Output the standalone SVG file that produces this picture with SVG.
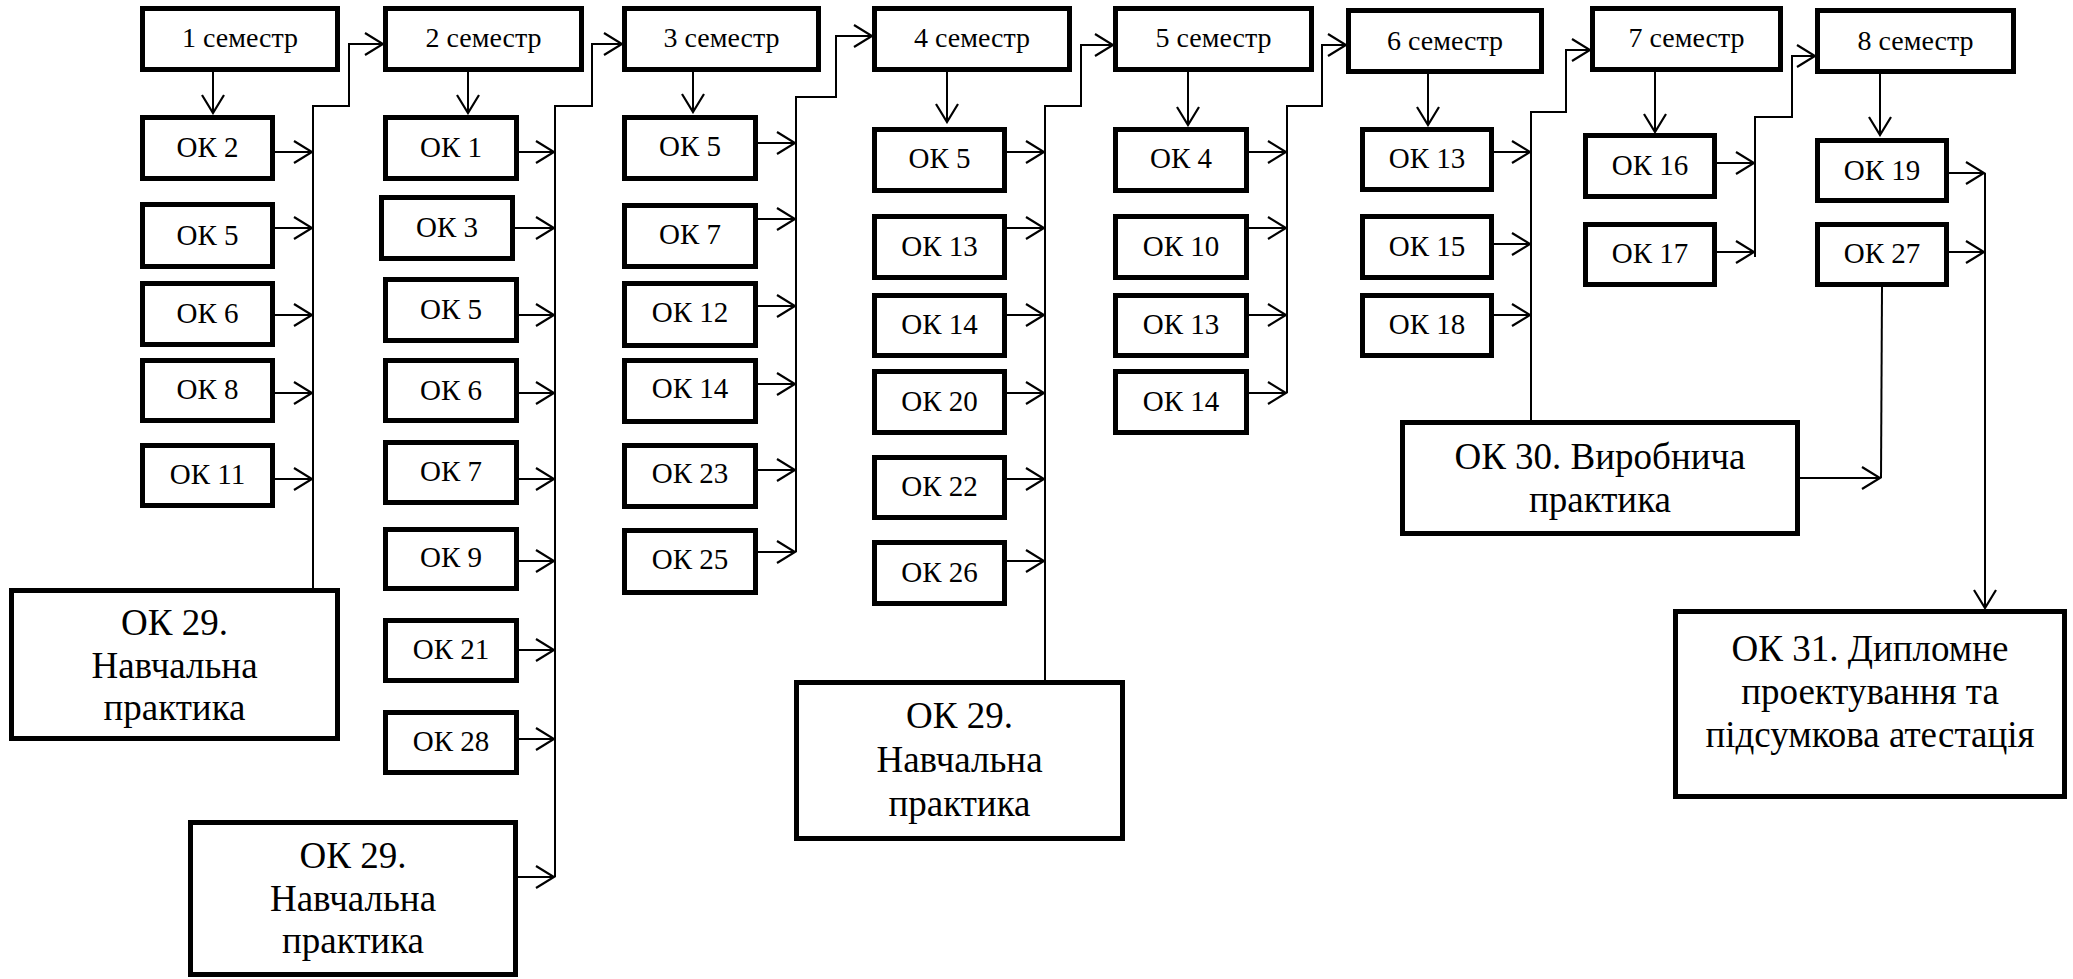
<svg xmlns="http://www.w3.org/2000/svg" width="2073" height="979" viewBox="0 0 2073 979">
<style>
.box{fill:#fff;stroke:#000;stroke-width:5}
.t{text-anchor:middle;fill:#000;font-family:'Liberation Serif','Times New Roman',serif}
.s{font-size:29px}
.m{font-size:28px}
.b{font-size:37px}
.c{fill:none;stroke:#000;stroke-width:2}
.a{fill:none;stroke:#000;stroke-width:2;marker-end:url(#ah)}
</style>
<defs>
<marker id="ah" markerUnits="userSpaceOnUse" viewBox="0 0 22 26" markerWidth="22" markerHeight="26" refX="20" refY="13" orient="auto">
<path d="M2,2 L20,13 L2,24" fill="none" stroke="#000" stroke-width="2.2"/>
</marker>
</defs>
<rect width="2073" height="979" fill="#fff"/>

<g id="connectors">
<line class="a" x1="213" y1="72" x2="213" y2="113"/>
<line class="a" x1="275" y1="152" x2="312" y2="152"/>
<line class="a" x1="275" y1="228" x2="312" y2="228"/>
<line class="a" x1="275" y1="315" x2="312" y2="315"/>
<line class="a" x1="275" y1="393" x2="312" y2="393"/>
<line class="a" x1="275" y1="479" x2="312" y2="479"/>
<polyline class="a" points="313,588 313,106 349,106 349,44 383,44"/>
<line class="a" x1="468" y1="72" x2="468" y2="113"/>
<line class="a" x1="519" y1="152" x2="554" y2="152"/>
<line class="a" x1="515" y1="228" x2="554" y2="228"/>
<line class="a" x1="519" y1="315" x2="554" y2="315"/>
<line class="a" x1="519" y1="393" x2="554" y2="393"/>
<line class="a" x1="519" y1="479" x2="554" y2="479"/>
<line class="a" x1="519" y1="561" x2="554" y2="561"/>
<line class="a" x1="519" y1="650" x2="554" y2="650"/>
<line class="a" x1="519" y1="739" x2="554" y2="739"/>
<line class="a" x1="518" y1="877" x2="554" y2="877"/>
<polyline class="a" points="555,877 555,106 592,106 592,44 622,44"/>
<line class="a" x1="693" y1="72" x2="693" y2="112"/>
<line class="a" x1="758" y1="143" x2="795" y2="143"/>
<line class="a" x1="758" y1="219" x2="795" y2="219"/>
<line class="a" x1="758" y1="306" x2="795" y2="306"/>
<line class="a" x1="758" y1="384" x2="795" y2="384"/>
<line class="a" x1="758" y1="470" x2="795" y2="470"/>
<line class="a" x1="758" y1="552" x2="795" y2="552"/>
<polyline class="a" points="796,552 796,97 836,97 836,36 872,36"/>
<line class="a" x1="947" y1="72" x2="947" y2="122"/>
<line class="a" x1="1007" y1="152" x2="1044" y2="152"/>
<line class="a" x1="1007" y1="228" x2="1044" y2="228"/>
<line class="a" x1="1007" y1="315" x2="1044" y2="315"/>
<line class="a" x1="1007" y1="393" x2="1044" y2="393"/>
<line class="a" x1="1007" y1="479" x2="1044" y2="479"/>
<line class="a" x1="1007" y1="561" x2="1044" y2="561"/>
<polyline class="a" points="1045,680 1045,106 1081,106 1081,45 1113,45"/>
<line class="a" x1="1188" y1="72" x2="1188" y2="125"/>
<line class="a" x1="1249" y1="152" x2="1286" y2="152"/>
<line class="a" x1="1249" y1="228" x2="1286" y2="228"/>
<line class="a" x1="1249" y1="315" x2="1286" y2="315"/>
<line class="a" x1="1249" y1="393" x2="1286" y2="393"/>
<polyline class="a" points="1287,393 1287,106 1322,106 1322,45 1346,45"/>
<line class="a" x1="1428" y1="74" x2="1428" y2="125"/>
<line class="a" x1="1494" y1="152" x2="1530" y2="152"/>
<line class="a" x1="1494" y1="244" x2="1530" y2="244"/>
<line class="a" x1="1494" y1="315" x2="1530" y2="315"/>
<polyline class="a" points="1531,420 1531,112 1566,112 1566,50 1590,50"/>
<line class="a" x1="1655" y1="72" x2="1655" y2="132"/>
<line class="a" x1="1717" y1="163" x2="1754" y2="163"/>
<line class="a" x1="1717" y1="252" x2="1754" y2="252"/>
<polyline class="a" points="1755,257 1755,117 1792,117 1792,56 1815,56"/>
<line class="a" x1="1880" y1="74" x2="1880" y2="135"/>
<line class="a" x1="1949" y1="173" x2="1984" y2="173"/>
<line class="a" x1="1949" y1="252" x2="1984" y2="252"/>
<line class="a" x1="1985" y1="173" x2="1985" y2="608"/>
<line class="c" x1="1882" y1="287" x2="1881" y2="478"/>
<line class="a" x1="1800" y1="478" x2="1880" y2="478"/>
</g>

<g id="sem1"><rect class="box" x="142.5" y="8.5" width="195" height="61"/><text class="t m" x="240" y="47">1 семестр</text></g>
<g id="sem2"><rect class="box" x="385.5" y="8.5" width="196" height="61"/><text class="t m" x="483.5" y="47">2 семестр</text></g>
<g id="sem3"><rect class="box" x="624.5" y="8.5" width="194" height="61"/><text class="t m" x="721.5" y="47">3 семестр</text></g>
<g id="sem4"><rect class="box" x="874.5" y="8.5" width="195" height="61"/><text class="t m" x="972" y="47">4 семестр</text></g>
<g id="sem5"><rect class="box" x="1115.5" y="8.5" width="196" height="61"/><text class="t m" x="1213.5" y="47">5 семестр</text></g>
<g id="sem6"><rect class="box" x="1348.5" y="10.5" width="193" height="61"/><text class="t m" x="1445" y="50">6 семестр</text></g>
<g id="sem7"><rect class="box" x="1592.5" y="8.5" width="188" height="61"/><text class="t m" x="1686.5" y="47">7 семестр</text></g>
<g id="sem8"><rect class="box" x="1817.5" y="10.5" width="196" height="61"/><text class="t m" x="1915.5" y="50">8 семестр</text></g>

<g id="c1-ok2"><rect class="box" x="142.5" y="117.5" width="130" height="61"/><text class="t s" x="207.5" y="157">ОК 2</text></g>
<g id="c1-ok5"><rect class="box" x="142.5" y="204.5" width="130" height="62"/><text class="t s" x="207.5" y="245">ОК 5</text></g>
<g id="c1-ok6"><rect class="box" x="142.5" y="283.5" width="130" height="61"/><text class="t s" x="207.5" y="323">ОК 6</text></g>
<g id="c1-ok8"><rect class="box" x="142.5" y="360.5" width="130" height="60"/><text class="t s" x="207.5" y="399">ОК 8</text></g>
<g id="c1-ok11"><rect class="box" x="142.5" y="445.5" width="130" height="60"/><text class="t s" x="207.5" y="484">ОК 11</text></g>

<g id="c2-ok1"><rect class="box" x="385.5" y="117.5" width="131" height="61"/><text class="t s" x="451" y="157">ОК 1</text></g>
<g id="c2-ok3"><rect class="box" x="381.5" y="197.5" width="131" height="61"/><text class="t s" x="447" y="237">ОК 3</text></g>
<g id="c2-ok5"><rect class="box" x="385.5" y="279.5" width="131" height="61"/><text class="t s" x="451" y="319">ОК 5</text></g>
<g id="c2-ok6"><rect class="box" x="385.5" y="360.5" width="131" height="60"/><text class="t s" x="451" y="400">ОК 6</text></g>
<g id="c2-ok7"><rect class="box" x="385.5" y="442.5" width="131" height="60"/><text class="t s" x="451" y="481">ОК 7</text></g>
<g id="c2-ok9"><rect class="box" x="385.5" y="529.5" width="131" height="59"/><text class="t s" x="451" y="567">ОК 9</text></g>
<g id="c2-ok21"><rect class="box" x="385.5" y="620.5" width="131" height="60"/><text class="t s" x="451" y="659">ОК 21</text></g>
<g id="c2-ok28"><rect class="box" x="385.5" y="712.5" width="131" height="60"/><text class="t s" x="451" y="751">ОК 28</text></g>

<g id="c3-ok5"><rect class="box" x="624.5" y="117.5" width="131" height="61"/><text class="t s" x="690" y="156">ОК 5</text></g>
<g id="c3-ok7"><rect class="box" x="624.5" y="205.5" width="131" height="61"/><text class="t s" x="690" y="244">ОК 7</text></g>
<g id="c3-ok12"><rect class="box" x="624.5" y="283.5" width="131" height="62"/><text class="t s" x="690" y="322">ОК 12</text></g>
<g id="c3-ok14"><rect class="box" x="624.5" y="360.5" width="131" height="61"/><text class="t s" x="690" y="398">ОК 14</text></g>
<g id="c3-ok23"><rect class="box" x="624.5" y="445.5" width="131" height="61"/><text class="t s" x="690" y="483">ОК 23</text></g>
<g id="c3-ok25"><rect class="box" x="624.5" y="530.5" width="131" height="62"/><text class="t s" x="690" y="569">ОК 25</text></g>

<g id="c4-ok5"><rect class="box" x="874.5" y="129.5" width="130" height="61"/><text class="t s" x="939.5" y="168">ОК 5</text></g>
<g id="c4-ok13"><rect class="box" x="874.5" y="216.5" width="130" height="61"/><text class="t s" x="939.5" y="256">ОК 13</text></g>
<g id="c4-ok14"><rect class="box" x="874.5" y="295.5" width="130" height="60"/><text class="t s" x="939.5" y="334">ОК 14</text></g>
<g id="c4-ok20"><rect class="box" x="874.5" y="371.5" width="130" height="61"/><text class="t s" x="939.5" y="411">ОК 20</text></g>
<g id="c4-ok22"><rect class="box" x="874.5" y="457.5" width="130" height="60"/><text class="t s" x="939.5" y="496">ОК 22</text></g>
<g id="c4-ok26"><rect class="box" x="874.5" y="542.5" width="130" height="61"/><text class="t s" x="939.5" y="582">ОК 26</text></g>

<g id="c5-ok4"><rect class="box" x="1115.5" y="129.5" width="131" height="61"/><text class="t s" x="1181" y="168">ОК 4</text></g>
<g id="c5-ok10"><rect class="box" x="1115.5" y="216.5" width="131" height="61"/><text class="t s" x="1181" y="256">ОК 10</text></g>
<g id="c5-ok13"><rect class="box" x="1115.5" y="295.5" width="131" height="60"/><text class="t s" x="1181" y="334">ОК 13</text></g>
<g id="c5-ok14"><rect class="box" x="1115.5" y="371.5" width="131" height="61"/><text class="t s" x="1181" y="411">ОК 14</text></g>

<g id="c6-ok13"><rect class="box" x="1362.5" y="129.5" width="129" height="60"/><text class="t s" x="1427" y="168">ОК 13</text></g>
<g id="c6-ok15"><rect class="box" x="1362.5" y="216.5" width="129" height="61"/><text class="t s" x="1427" y="256">ОК 15</text></g>
<g id="c6-ok18"><rect class="box" x="1362.5" y="295.5" width="129" height="60"/><text class="t s" x="1427" y="334">ОК 18</text></g>

<g id="c7-ok16"><rect class="box" x="1585.5" y="135.5" width="129" height="61"/><text class="t s" x="1650" y="175">ОК 16</text></g>
<g id="c7-ok17"><rect class="box" x="1585.5" y="224.5" width="129" height="60"/><text class="t s" x="1650" y="263">ОК 17</text></g>

<g id="c8-ok19"><rect class="box" x="1817.5" y="140.5" width="129" height="60"/><text class="t s" x="1882" y="180">ОК 19</text></g>
<g id="c8-ok27"><rect class="box" x="1817.5" y="224.5" width="129" height="60"/><text class="t s" x="1882" y="263">ОК 27</text></g>

<g id="ok29-a"><rect class="box" x="11.5" y="590.5" width="326" height="148"/>
<text class="t b" x="174.5" y="635">ОК 29.</text><text class="t b" x="174.5" y="678">Навчальна</text><text class="t b" x="174.5" y="720">практика</text></g>
<g id="ok29-b"><rect class="box" x="190.5" y="822.5" width="325" height="152"/>
<text class="t b" x="353" y="868">ОК 29.</text><text class="t b" x="353" y="911">Навчальна</text><text class="t b" x="353" y="953">практика</text></g>
<g id="ok29-c"><rect class="box" x="796.5" y="682.5" width="326" height="156"/>
<text class="t b" x="959.5" y="728">ОК 29.</text><text class="t b" x="959.5" y="772">Навчальна</text><text class="t b" x="959.5" y="816">практика</text></g>
<g id="ok30"><rect class="box" x="1402.5" y="422.5" width="395" height="111"/>
<text class="t b" x="1600" y="469">ОК 30. Виробнича</text><text class="t b" x="1600" y="512">практика</text></g>
<g id="ok31"><rect class="box" x="1675.5" y="611.5" width="389" height="185"/>
<text class="t b" x="1870" y="661">ОК 31. Дипломне</text><text class="t b" x="1870" y="704">проектування та</text><text class="t b" x="1870" y="747">підсумкова атестація</text></g>
</svg>
